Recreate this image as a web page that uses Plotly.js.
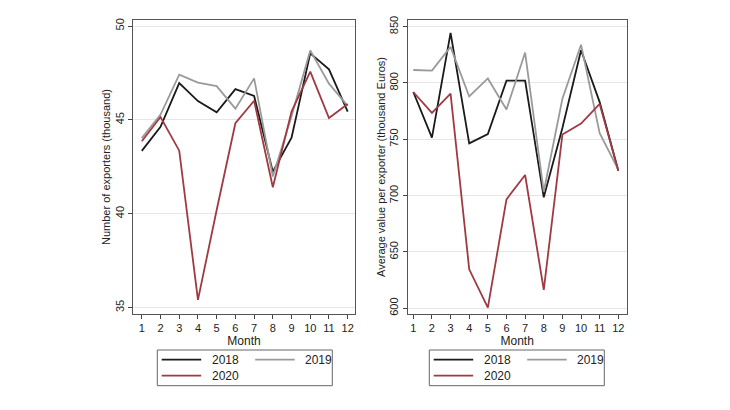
<!DOCTYPE html>
<html>
<head>
<meta charset="utf-8">
<script src="https://cdn.plot.ly/plotly-3.0.1.min.js"></script>
<style>html,body{margin:0;padding:0;background:#fff;}#chart{width:730px;height:410px;}</style>
</head>
<body>
<div id="chart"></div>
<script>
const months = [1,2,3,4,5,6,7,8,9,10,11,12];
const seriesNames = ['2018','2019','2020'];
const exporters2018 = [43.35,44.63,46.96,46.0,45.4,46.64,46.27,42.24,44.05,48.54,47.69,45.44];
const exporters2019 = [44.03,45.28,47.41,46.98,46.8,45.6,47.21,41.98,45.2,48.7,46.93,45.75];
const exporters2020 = [43.86,45.15,43.36,35.41,40.2,44.82,46.02,41.41,45.44,47.57,45.1,45.85];
const avgValue2018 = [792,751.5,844.5,746.4,754.7,802,802,698.5,760,829,783,722];
const avgValue2019 = [811.5,811,832,788,804,776.5,827,703.5,786,834,755.5,723];
const avgValue2020 = [792,773.5,790.5,634.6,600.6,696.7,718.3,616.3,754.2,764,781.4,722];
const leftTicks = [35,40,45,50];
const rightTicks = [600,650,700,750,800,850];

const W = 730, H = 410;
const px = v => v / W, py = v => (H - v) / H;
const colors = ['#1a1a1a','#9a9a9a','#a03a42'];
const font = {family:'Liberation Sans, Arial, sans-serif', size:11, color:'#222'};

const leftData = [exporters2018, exporters2019, exporters2020];
const rightData = [avgValue2018, avgValue2019, avgValue2020];
const traces = [];
leftData.forEach((ys,i)=>traces.push({x:months,y:ys,type:'scatter',mode:'lines',name:seriesNames[i],
  line:{color:colors[i],width:1.8},xaxis:'x',yaxis:'y',showlegend:false}));
rightData.forEach((ys,i)=>traces.push({x:months,y:ys,type:'scatter',mode:'lines',name:seriesNames[i],
  line:{color:colors[i],width:1.8},xaxis:'x2',yaxis:'y2',showlegend:false}));

// manual legends (box + key lines + labels), one under each panel
const shapes = [], annotations = [];
const entryOffsets = [[0,0],[93.5,0],[0,16]]; // column/row offsets of 2018, 2019, 2020 keys
function addLegend(boxLeft) {
  shapes.push({type:'rect', xref:'paper', yref:'paper', x0:px(boxLeft), x1:px(boxLeft+175),
    y0:py(385.7), y1:py(350), line:{color:'#666', width:1}, fillcolor:'rgba(0,0,0,0)'});
  seriesNames.forEach((name,i)=>{
    const lx = boxLeft + 4.4 + entryOffsets[i][0];
    const ly = 359.7 + entryOffsets[i][1];
    shapes.push({type:'line', xref:'paper', yref:'paper', x0:px(lx), x1:px(lx+39.5), y0:py(ly), y1:py(ly),
      line:{color:colors[i], width:1.8}});
    annotations.push({xref:'paper', yref:'paper', x:px(lx+48), y:py(ly), xanchor:'left', yanchor:'middle',
      text:name, showarrow:false, font:{...font,size:12}});
  });
}
addLegend(157.3);
addLegend(429.3);

const xBase = {tickvals:months, ticks:'outside', ticklen:4, tickcolor:'#444', showgrid:false, zeroline:false,
  showline:true, linecolor:'#555', linewidth:1, mirror:true, tickfont:{...font,size:11},
  title:{text:'Month', font:{...font,size:12}, standoff:0}};
const yBase = {ticks:'outside', ticklen:4, tickcolor:'#444', tickangle:-90, showgrid:true, gridcolor:'#e6e6e6',
  zeroline:false, showline:true, linecolor:'#555', linewidth:1, mirror:true, tickfont:{...font,size:11}};

const layout = {
  width:W, height:H, margin:{l:0,r:0,t:0,b:0}, paper_bgcolor:'#fff', plot_bgcolor:'#fff',
  font:font, showlegend:false, shapes:shapes, annotations:annotations,
  xaxis:{...xBase, domain:[px(133),px(355)], range:[0.53,12.39], anchor:'y'},
  yaxis:{...yBase, domain:[96/H,390/H], range:[34.66,50.32], tickvals:leftTicks, anchor:'x',
    title:{text:'Number of exporters (thousand)', font:{...font,size:11}, standoff:0}},
  xaxis2:{...xBase, domain:[px(407.7),px(626.7)], range:[0.70,12.45], anchor:'y2'},
  yaxis2:{...yBase, domain:[96/H,390/H], range:[594.9,855.9], tickvals:rightTicks, anchor:'x2',
    title:{text:'Average value per exporter (thousand Euros)', font:{...font,size:11}, standoff:0}}
};
Plotly.newPlot('chart', traces, layout, {displayModeBar:false, staticPlot:true});
</script>
</body>
</html>
